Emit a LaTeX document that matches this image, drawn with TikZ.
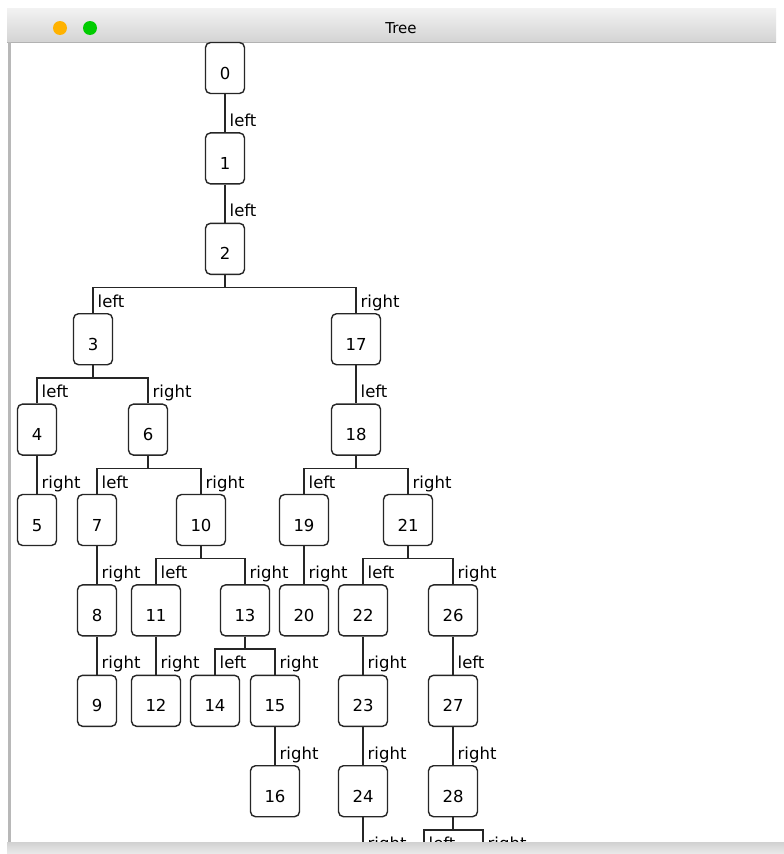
\documentclass[tikz,border=0pt]{standalone}
\usepackage{fontspec}
\setmainfont{DejaVu Sans}
\usetikzlibrary{positioning}

\newcommand{\branch}[3]{\draw[edge] (#1.south) -- ++(0,-12.5) -| node[lbl, pos=0.8] {#3} (#2);}

\begin{document}
\begin{tikzpicture}[x=1pt, y=1pt, node distance=38pt,
        tbox/.style={rectangle, rounded corners=5pt, draw=black!85, line width=1.4pt, fill=white,
            minimum width=39pt, minimum height=51pt, inner xsep=14pt, text height=22pt, text depth=0pt,
            font=\fontsize{16.5}{20}\selectfont},
        lbl/.style={anchor=west, inner sep=1pt, xshift=3pt, text height=12.5pt, text depth=3.6pt,
            font=\fontsize{16.5}{20}\selectfont},
        edge/.style={draw=black!85, line width=1.4pt}]

        \useasboundingbox (0,0) rectangle (784,-854);
        \fill[white] (0,0) rectangle (784,-854);

        % window frame
        \shade[top color=black!5, bottom color=black!17] (7,-8) rectangle (776,-42);
        \draw[black!30] (7,-42) -- (776,-42);
        \fill[black!28] (8,-42) rectangle (11,-842);
        \fill[orange!60!yellow] (60,-28) circle (7);
        \fill[green!80!black] (90,-28) circle (7);
        \node[font=\fontsize{15}{18}\selectfont] (title) at (401,-28) {Tree};

        \node[tbox] (n0) at (225,-68) {0};
        \node[tbox, below=of n0] (n1) {1};
        \node[tbox, below=of n1] (n2) {2};

        \node[tbox, below=of n2, xshift=-132pt] (n3) {3};
        \node[tbox, below=of n2, xshift=131pt] (n17) {17};

        \node[tbox, below=of n3, xshift=-56pt] (n4) {4};
        \node[tbox, below=of n3, xshift=55pt] (n6) {6};
        \node[tbox, below=of n17] (n18) {18};

        \node[tbox, below=of n4] (n5) {5};
        \node[tbox, below=of n6, xshift=-51pt] (n7) {7};
        \node[tbox, below=of n6, xshift=53pt] (n10) {10};
        \node[tbox, below=of n18, xshift=-52pt] (n19) {19};
        \node[tbox, below=of n18, xshift=52pt] (n21) {21};

        \node[tbox, below=of n7] (n8) {8};
        \node[tbox, below=of n10, xshift=-45pt] (n11) {11};
        \node[tbox, below=of n10, xshift=44pt] (n13) {13};
        \node[tbox, below=of n19] (n20) {20};
        \node[tbox, below=of n21, xshift=-45pt] (n22) {22};
        \node[tbox, below=of n21, xshift=45pt] (n26) {26};

        \node[tbox, below=of n8] (n9) {9};
        \node[tbox, below=of n11] (n12) {12};
        \node[tbox, below=of n13, xshift=-30pt] (n14) {14};
        \node[tbox, below=of n13, xshift=30pt] (n15) {15};
        \node[tbox, below=of n22] (n23) {23};
        \node[tbox, below=of n26] (n27) {27};

        \node[tbox, below=of n15] (n16) {16};
        \node[tbox, below=of n23] (n24) {24};
        \node[tbox, below=of n27] (n28) {28};

        \path (n24.south) ++(0,-38) coordinate (n24r);
        \path (n28.south) ++(-29,-38) coordinate (n28l) ++(59,0) coordinate (n28r);

        \branch{n0}{n1.north}{left}
        \branch{n1}{n2.north}{left}
        \branch{n2}{n3.north}{left}
        \branch{n2}{n17.north}{right}
        \branch{n3}{n4.north}{left}
        \branch{n3}{n6.north}{right}
        \branch{n17}{n18.north}{left}
        \branch{n4}{n5.north}{right}
        \branch{n6}{n7.north}{left}
        \branch{n6}{n10.north}{right}
        \branch{n18}{n19.north}{left}
        \branch{n18}{n21.north}{right}
        \branch{n7}{n8.north}{right}
        \branch{n10}{n11.north}{left}
        \branch{n10}{n13.north}{right}
        \branch{n19}{n20.north}{right}
        \branch{n21}{n22.north}{left}
        \branch{n21}{n26.north}{right}
        \branch{n8}{n9.north}{right}
        \branch{n11}{n12.north}{right}
        \branch{n13}{n14.north}{left}
        \branch{n13}{n15.north}{right}
        \branch{n22}{n23.north}{right}
        \branch{n26}{n27.north}{left}
        \branch{n15}{n16.north}{right}
        \branch{n23}{n24.north}{right}
        \branch{n27}{n28.north}{right}
        \branch{n24}{n24r}{right}
        \branch{n28}{n28l}{left}
        \branch{n28}{n28r}{right}

        \shade[top color=black!18, bottom color=black!8] (7,-842) rectangle (784,-854);
    \end{tikzpicture}
\end{document}
